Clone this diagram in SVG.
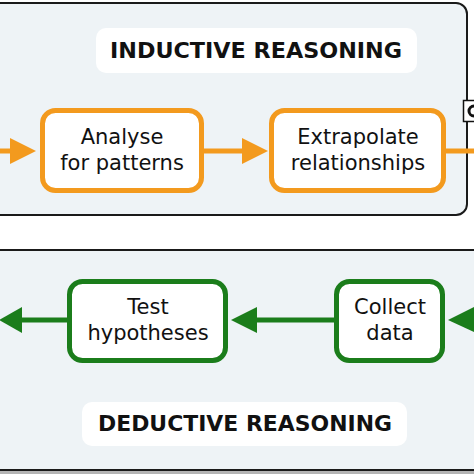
<svg xmlns="http://www.w3.org/2000/svg" width="474" height="474" viewBox="0 0 474 474">
<defs>
<style>
.panel{fill:#eef3f6;stroke:#1a1a1a;stroke-width:2}
.title{fill:#ffffff;stroke:none}
.ttext{font-family:"DejaVu Sans",Verdana,sans-serif;font-weight:bold;font-size:21.5px;fill:#111111;text-anchor:middle}
.ntext{font-family:"DejaVu Sans",Verdana,sans-serif;font-size:21px;fill:#111111;text-anchor:middle}
.onode{fill:#ffffff;stroke:#f39a1e;stroke-width:5}
.gnode{fill:#ffffff;stroke:#1b7d1b;stroke-width:5}
.oline{stroke:#f39a1e;stroke-width:5;fill:none}
.gline{stroke:#1b7d1b;stroke-width:5;fill:none}
.ohead{fill:#f39a1e}
.ghead{fill:#1b7d1b}
</style>
</defs>
<rect x="0" y="0" width="474" height="474" fill="#ffffff"/>
<g id="inductive-panel">
<rect class="panel" x="-20" y="3" width="487" height="212" rx="11"/>
<rect class="title" x="96" y="28" width="321" height="45" rx="10"/>
<text class="ttext" x="256" y="58" textLength="292" lengthAdjust="spacingAndGlyphs">INDUCTIVE REASONING</text>
</g>
<g id="deductive-panel">
<rect x="0" y="470" width="474" height="4" fill="#b4b4b4"/>
<rect class="panel" x="-20" y="250" width="520" height="220"/>
<rect class="title" x="82" y="402" width="325" height="44" rx="10"/>
<text class="ttext" x="245" y="431" textLength="294" lengthAdjust="spacingAndGlyphs">DEDUCTIVE REASONING</text>
</g>
<g id="connectors">
<line class="oline" x1="-2" y1="151" x2="14" y2="151"/>
<polygon class="ohead" points="10,138 36,151 10,164"/>
<line class="oline" x1="204" y1="151" x2="246" y2="151"/>
<polygon class="ohead" points="242,138 268,151 242,164"/>
<line class="oline" x1="446" y1="151" x2="476" y2="151"/>
<line class="gline" x1="476" y1="320" x2="470" y2="320"/>
<polygon class="ghead" points="476,306 448,320 476,333"/>
<line class="gline" x1="334" y1="320" x2="252" y2="320"/>
<polygon class="ghead" points="257,307 231,320 257,333"/>
<line class="gline" x1="67" y1="320" x2="18" y2="320"/>
<polygon class="ghead" points="22,307 -1,320 22,333"/>
</g>
<g id="marker-icon">
<rect x="463.5" y="100.5" width="12" height="21" fill="#ffffff" stroke="#111111" stroke-width="1.5"/>
<path d="M474,106 A5,5 0 1 0 474,116" fill="none" stroke="#111111" stroke-width="3"/>
</g>
<g id="node-analyse">
<rect class="onode" x="42.5" y="110.5" width="159" height="80" rx="13"/>
<text class="ntext" x="122" y="144">Analyse</text>
<text class="ntext" x="122" y="170">for patterns</text>
</g>
<g id="node-extrapolate">
<rect class="onode" x="271.5" y="110.5" width="172" height="80" rx="13"/>
<text class="ntext" x="358" y="144">Extrapolate</text>
<text class="ntext" x="358" y="170">relationships</text>
</g>
<g id="node-test">
<rect class="gnode" x="69.5" y="281.5" width="156" height="79" rx="13"/>
<text class="ntext" x="148" y="314">Test</text>
<text class="ntext" x="148" y="340">hypotheses</text>
</g>
<g id="node-collect">
<rect class="gnode" x="336.5" y="281.5" width="106" height="79" rx="13"/>
<text class="ntext" x="390" y="314">Collect</text>
<text class="ntext" x="390" y="340">data</text>
</g>
</svg>
